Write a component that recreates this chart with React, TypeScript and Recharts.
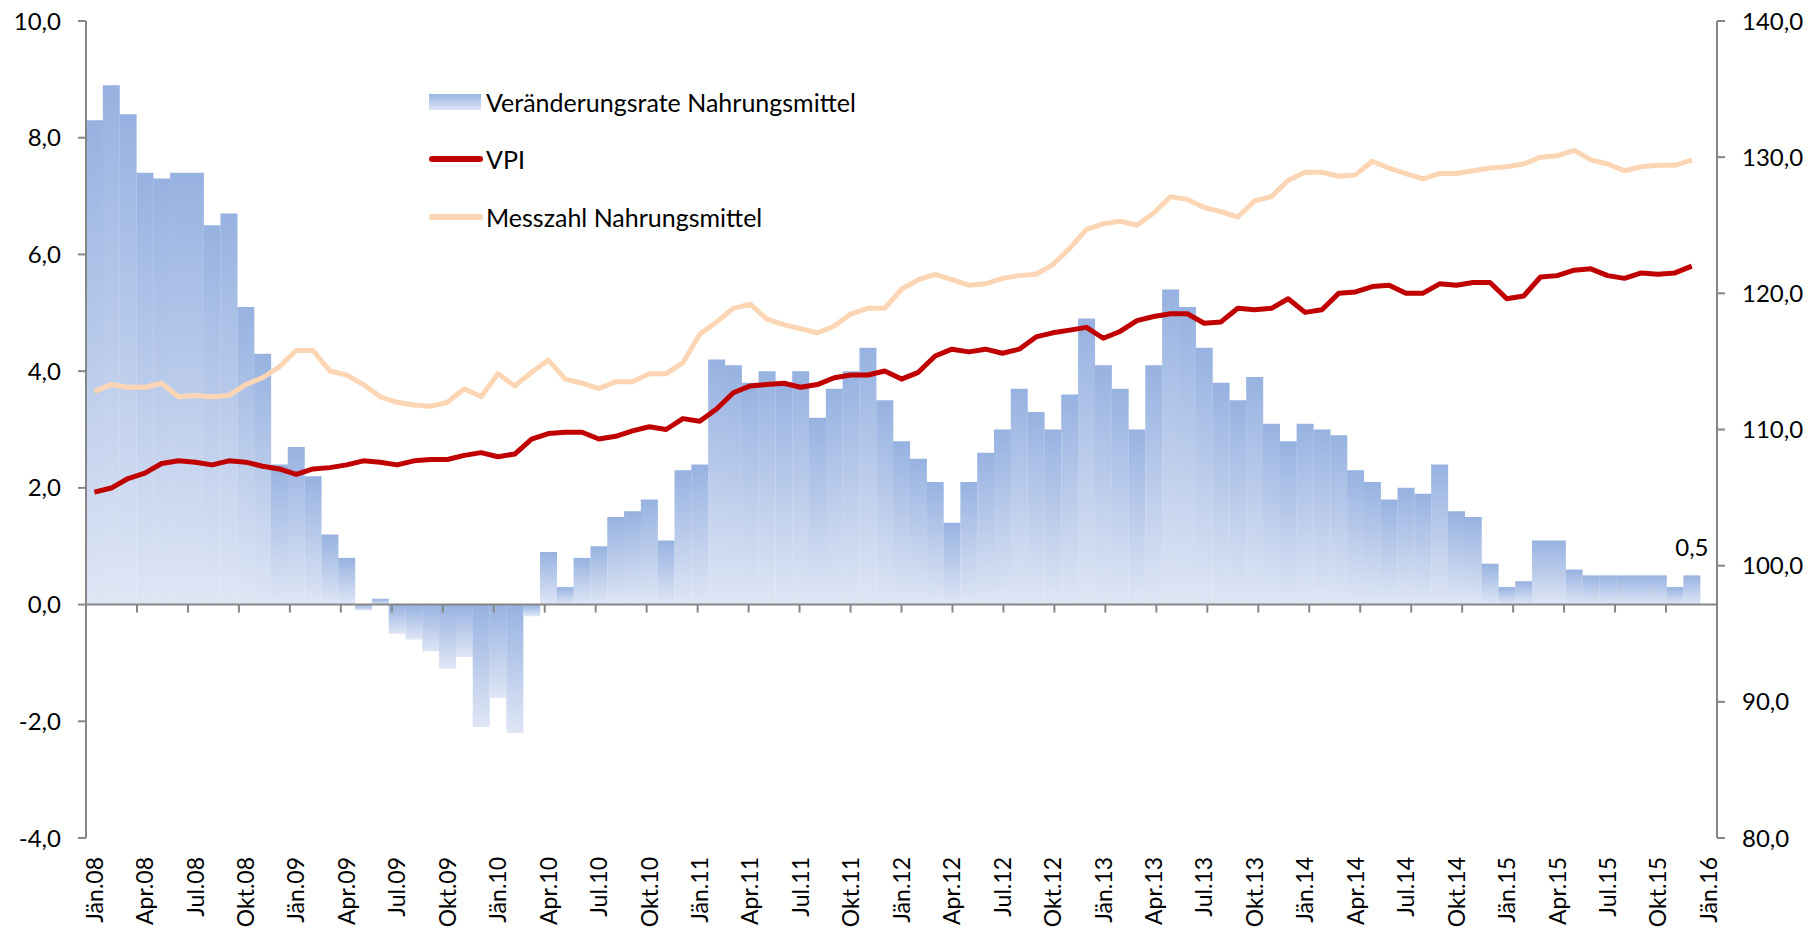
import {
    ComposedChart,
    Bar,
    Line,
    XAxis,
    YAxis,
    ReferenceLine,
    LabelList,
    Legend
} from "recharts";

const monthNames = ["Jän", "Feb", "Mär", "Apr", "Mai", "Jun", "Jul", "Aug", "Sep", "Okt", "Nov", "Dez"];
const years = ["08", "09", "10", "11", "12", "13", "14", "15", "16"];

// Jän.08 .. Jän.16 (the last category stays empty)
const months = years.flatMap((y) => monthNames.map((m) => `${m}.${y}`)).slice(0, 97);

// Veränderungsrate Nahrungsmittel, % (left axis)
const foodRate = [
    8.3, 8.9, 8.4, 7.4, 7.3, 7.4, 7.4, 6.5, 6.7, 5.1, 4.3, 2.4,
    2.7, 2.2, 1.2, 0.8, -0.1, 0.1, -0.5, -0.6, -0.8, -1.1, -0.9, -2.1,
    -1.6, -2.2, -0.2, 0.9, 0.3, 0.8, 1.0, 1.5, 1.6, 1.8, 1.1, 2.3,
    2.4, 4.2, 4.1, 3.8, 4.0, 3.8, 4.0, 3.2, 3.7, 4.0, 4.4, 3.5,
    2.8, 2.5, 2.1, 1.4, 2.1, 2.6, 3.0, 3.7, 3.3, 3.0, 3.6, 4.9,
    4.1, 3.7, 3.0, 4.1, 5.4, 5.1, 4.4, 3.8, 3.5, 3.9, 3.1, 2.8,
    3.1, 3.0, 2.9, 2.3, 2.1, 1.8, 2.0, 1.9, 2.4, 1.6, 1.5, 0.7,
    0.3, 0.4, 1.1, 1.1, 0.6, 0.5, 0.5, 0.5, 0.5, 0.5, 0.3, 0.5
];

// VPI (right axis)
const vpi = [
    105.4, 105.7, 106.4, 106.8, 107.5, 107.7, 107.6, 107.4, 107.7, 107.6, 107.3, 107.1,
    106.7, 107.1, 107.2, 107.4, 107.7, 107.6, 107.4, 107.7, 107.8, 107.8, 108.1, 108.3,
    108.0, 108.2, 109.3, 109.7, 109.8, 109.8, 109.3, 109.5, 109.9, 110.2, 110.0, 110.8,
    110.6, 111.5, 112.7, 113.2, 113.3, 113.4, 113.1, 113.3, 113.8, 114.0, 114.0, 114.3,
    113.7, 114.2, 115.4, 115.9, 115.7, 115.9, 115.6, 115.9, 116.8, 117.1, 117.3, 117.5,
    116.7, 117.2, 118.0, 118.3, 118.5, 118.5, 117.8, 117.9, 118.9, 118.8, 118.9, 119.6,
    118.6, 118.8, 120.0, 120.1, 120.5, 120.6, 120.0, 120.0, 120.7, 120.6, 120.8, 120.8,
    119.6, 119.8, 121.2, 121.3, 121.7, 121.8, 121.3, 121.1, 121.5, 121.4, 121.5, 122.0
];

// Messzahl Nahrungsmittel (right axis)
const foodIndex = [
    112.8, 113.3, 113.1, 113.1, 113.4, 112.4, 112.5, 112.4, 112.5, 113.3, 113.8, 114.6,
    115.8, 115.8, 114.3, 114.0, 113.3, 112.4, 112.0, 111.8, 111.7, 112.0, 113.0, 112.4,
    114.1, 113.2, 114.2, 115.1, 113.7, 113.4, 113.0, 113.5, 113.5, 114.1, 114.1, 114.9,
    117.0, 117.9, 118.9, 119.2, 118.1, 117.7, 117.4, 117.1, 117.6, 118.5, 118.9, 118.9,
    120.3, 121.0, 121.4, 121.0, 120.6, 120.7, 121.1, 121.3, 121.4, 122.1, 123.3, 124.7,
    125.1, 125.3, 125.0, 125.9, 127.1, 126.9, 126.3, 126.0, 125.6, 126.8, 127.1, 128.3,
    128.9, 128.9, 128.6, 128.7, 129.7, 129.2, 128.8, 128.4, 128.8, 128.8, 129.0, 129.2,
    129.3, 129.5, 130.0, 130.1, 130.5, 129.8, 129.5, 129.0, 129.3, 129.4, 129.4, 129.8
];

const leftTicks = [-4, -2, 0, 2, 4, 6, 8, 10];
const rightTicks = [80, 90, 100, 110, 120, 130, 140];

const data = months.map((month, i) => ({
    month,
    rate: foodRate[i] ?? null,
    vpi: vpi[i] ?? null,
    food: foodIndex[i] ?? null
}));

const lastIdx = foodRate.length - 1;

// small tick marks on the zero line, every 3 months (category boundaries)
const zeroTicks = Array.from({ length: 32 }, (_, k) => (k + 1) * 3);

const FONT = "Lato, 'Open Sans', sans-serif";
const AXIS = "#868686";
const W = 1818;
const H = 928;
const PLOT_TOP = 21;
const X_AXIS_H = 90;
const TICK_UNITS = 8 / ((H - PLOT_TOP - X_AXIS_H) / 14);

const fmt = (v: number) => v.toFixed(1).replace(".", ",");

function MonthTick({ x, y, payload }: any) {
    const ty = y + 19;
    return (
        <text
            x={x}
            y={ty}
            dy="0.36em"
            transform={`rotate(-90, ${x}, ${ty})`}
            textAnchor="end"
            fill="#000"
            fontSize={23}
            fontFamily={FONT}
        >
            {payload.value}
        </text>
    );
}

function ChartLegend() {
    const row = { display: "flex", alignItems: "center", height: 57.5 } as const;
    const label = { marginLeft: 5, fontSize: 25, color: "#000", fontFamily: FONT, whiteSpace: "nowrap" } as const;
    return (
        <div>
            <div style={row}>
                <div style={{ width: 52, height: 16, background: "linear-gradient(#9ab4e2, #dde5f4)" }} />
                <span style={label}>Veränderungsrate Nahrungsmittel</span>
            </div>
            <div style={row}>
                <div style={{ width: 54, height: 6, borderRadius: 3, background: "#c00000" }} />
                <span style={{ ...label, marginLeft: 3 }}>VPI</span>
            </div>
            <div style={row}>
                <div style={{ width: 54, height: 6, borderRadius: 3, background: "#fcd5b5" }} />
                <span style={{ ...label, marginLeft: 3 }}>Messzahl Nahrungsmittel</span>
            </div>
        </div>
    );
}

export default function App() {
    return (
        <div>
            <style>{"body{margin:0}"}</style>
            <ComposedChart
                width={W}
                height={H}
                data={data}
                margin={{ top: PLOT_TOP, right: 0, bottom: 0, left: 0 }}
                barCategoryGap={0}
                barGap={0}
                style={{ fontFamily: FONT }}
            >
                <defs>
                    <linearGradient id="barGrad" x1="0" y1="0" x2="0" y2="1">
                        <stop offset="0%" stopColor="#97b2e1" />
                        <stop offset="100%" stopColor="#dfe6f5" />
                    </linearGradient>
                </defs>
                <XAxis
                    xAxisId="cat"
                    dataKey="month"
                    height={X_AXIS_H}
                    interval={2}
                    axisLine={false}
                    tickLine={false}
                    tickSize={0}
                    tickMargin={0}
                    tick={<MonthTick />}
                />
                <XAxis xAxisId="num" type="number" domain={[0, 97]} allowDataOverflow hide />
                <YAxis
                    yAxisId="left"
                    width={86}
                    domain={[-4, 10]}
                    ticks={leftTicks}
                    allowDataOverflow
                    tickFormatter={fmt}
                    axisLine={{ stroke: AXIS, strokeWidth: 2 }}
                    tickLine={{ stroke: AXIS, strokeWidth: 2 }}
                    tickSize={8}
                    tickMargin={17}
                    tick={{ fill: "#000", fontSize: 24, fontFamily: FONT }}
                />
                <YAxis
                    yAxisId="right"
                    orientation="right"
                    width={101}
                    domain={[80, 140]}
                    ticks={rightTicks}
                    allowDataOverflow
                    tickFormatter={fmt}
                    axisLine={{ stroke: AXIS, strokeWidth: 2 }}
                    tickLine={{ stroke: AXIS, strokeWidth: 2 }}
                    tickSize={8}
                    tickMargin={17}
                    tick={{ fill: "#000", fontSize: 24, fontFamily: FONT, textAnchor: "start" }}
                />
                <Bar
                    xAxisId="cat"
                    yAxisId="left"
                    dataKey="rate"
                    name="Veränderungsrate Nahrungsmittel"
                    fill="url(#barGrad)"
                    isAnimationActive={false}
                >
                    <LabelList
                        dataKey="rate"
                        content={(p: any) =>
                            p.index === lastIdx ? (
                                <text
                                    x={p.x + p.width / 2}
                                    y={p.y - 19}
                                    textAnchor="middle"
                                    fill="#000"
                                    fontSize={24}
                                    fontFamily={FONT}
                                >
                                    {fmt(Number(p.value))}
                                </text>
                            ) : null
                        }
                    />
                </Bar>
                <ReferenceLine xAxisId="cat" yAxisId="left" y={0} stroke={AXIS} strokeWidth={2} />
                {zeroTicks.map((k) => (
                    <ReferenceLine
                        key={k}
                        xAxisId="num"
                        yAxisId="left"
                        segment={[{ x: k, y: 0 }, { x: k, y: -TICK_UNITS }]}
                        stroke={AXIS}
                        strokeWidth={2}
                    />
                ))}
                <Line
                    xAxisId="cat"
                    yAxisId="right"
                    dataKey="food"
                    name="Messzahl Nahrungsmittel"
                    stroke="#fcd5b5"
                    strokeWidth={5}
                    strokeLinejoin="round"
                    dot={false}
                    isAnimationActive={false}
                />
                <Line
                    xAxisId="cat"
                    yAxisId="right"
                    dataKey="vpi"
                    name="VPI"
                    stroke="#c00000"
                    strokeWidth={5}
                    strokeLinejoin="round"
                    dot={false}
                    isAnimationActive={false}
                />
                <Legend
                    layout="vertical"
                    align="center"
                    verticalAlign="middle"
                    wrapperStyle={{ left: 429, top: 73, width: "auto", height: "auto" }}
                    content={() => <ChartLegend />}
                />
            </ComposedChart>
        </div>
    );
}
